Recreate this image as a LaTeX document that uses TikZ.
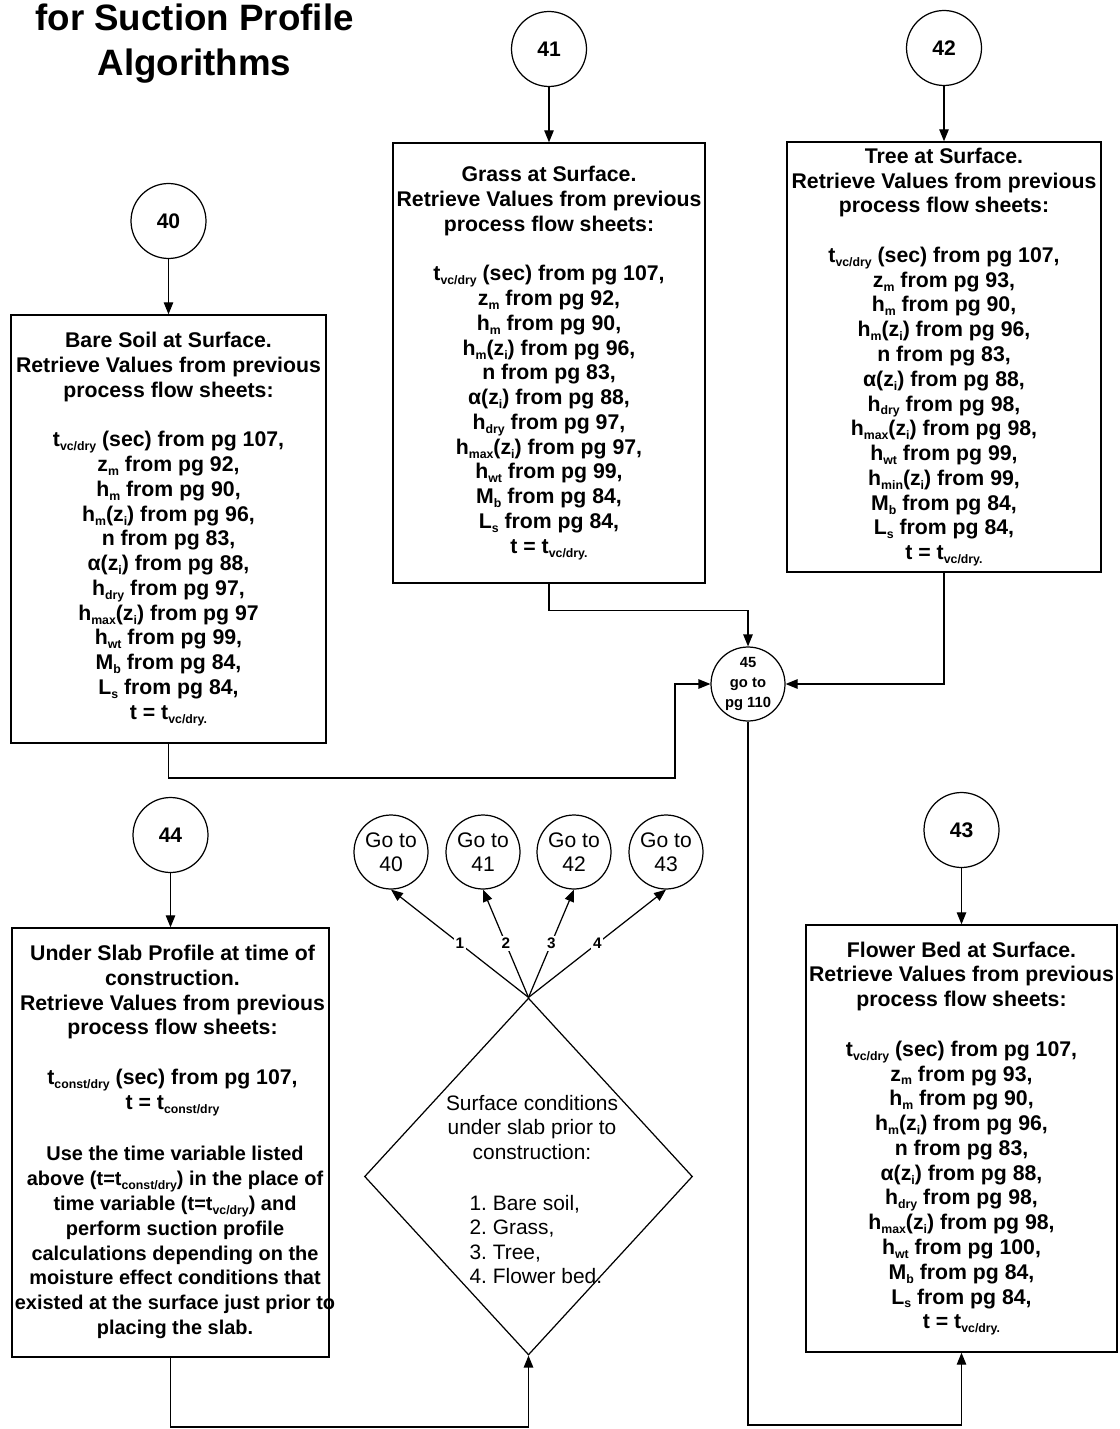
\documentclass[tikz,border=0pt]{standalone}
\usepackage{fontspec}
\setmainfont{Liberation Sans}
\usetikzlibrary{arrows.meta,shapes.geometric}

\newcommand{\sbs}[1]{\raisebox{-0.35ex}{\fontsize{7}{8}\selectfont #1}}
\newcommand{\tvc}{t\sbs{vc/dry}}
\newcommand{\zi}{(z\sbs{i})}

\begin{document}
\begin{tikzpicture}[x=0.02cm,y=-0.02cm,line width=0.7pt,
    >={Triangle[length=0.24cm,width=0.19cm]},
    boxtext/.style={inner sep=0pt,align=center,font=\fontsize{12.1}{14.1}\selectfont\bfseries},
    box/.style={boxtext,draw,line width=0.85pt},
    num/.style={circle,draw,minimum size=1.5cm,inner sep=0pt,
        font=\fontsize{12}{14}\selectfont\bfseries},
    goto/.style={circle,draw,minimum size=1.48cm,inner sep=0pt,align=center,
        font=\fontsize{12}{13.6}\selectfont},
    lbl/.style={fill=white,inner sep=1pt,font=\fontsize{8.7}{10}\selectfont\bfseries},
    cond/.style={inner sep=0pt,font=\fontsize{11.9}{13.95}\selectfont},
    title/.style={anchor=base,font=\fontsize{20.9}{25}\selectfont\bfseries}]
    \fill[white,use as bounding box] (0,0) rectangle (1119,1429);

    % title
    \node[title] (title1) at (194.5,31) {for Suction Profile};
    \node[title] (title2) at (194.5,76) {Algorithms};

    % entry points
    \node[num] (c40) at (168.5,221) {40};
    \node[num] (c41) at (549,49) {41};
    \node[num] (c42) at (944,48) {42};
    \node[num] (c43) at (961.5,830) {43};
    \node[num] (c44) at (170.5,835) {44};
    \node[circle,draw,minimum size=1.48cm,inner sep=0pt,align=center,
        font=\fontsize{8.4}{11.3}\selectfont\bfseries] (c45) at (748,684) {45\\go to\\pg 110};

    % surface boxes
    \node[box,minimum width=6.30cm,minimum height=8.56cm] (soil) at (168.5,529) {Bare Soil at Surface.\\Retrieve Values from previous\\process flow sheets:\\[14.1pt]
        \tvc{} (sec) from pg 107,\\z\sbs{m} from pg 92,\\h\sbs{m} from pg 90,\\h\sbs{m}\zi{} from pg 96,\\n from pg 83,\\α\zi{} from pg 88,\\
        h\sbs{dry} from pg 97,\\h\sbs{max}\zi{} from pg 97\\h\sbs{wt} from pg 99,\\M\sbs{b} from pg 84,\\L\sbs{s} from pg 84,\\t = t\sbs{vc/dry.}};
    \node[box,minimum width=6.24cm,minimum height=8.80cm] (grass) at (549,363) {Grass at Surface.\\Retrieve Values from previous\\process flow sheets:\\[14.1pt]
        \tvc{} (sec) from pg 107,\\z\sbs{m} from pg 92,\\h\sbs{m} from pg 90,\\h\sbs{m}\zi{} from pg 96,\\n from pg 83,\\α\zi{} from pg 88,\\
        h\sbs{dry} from pg 97,\\h\sbs{max}\zi{} from pg 97,\\h\sbs{wt} from pg 99,\\M\sbs{b} from pg 84,\\L\sbs{s} from pg 84,\\t = t\sbs{vc/dry.}};
    \node[box,minimum width=6.28cm,minimum height=8.60cm] (tree) at (944,357) {Tree at Surface.\\Retrieve Values from previous\\process flow sheets:\\[14.1pt]
        \tvc{} (sec) from pg 107,\\z\sbs{m} from pg 93,\\h\sbs{m} from pg 90,\\h\sbs{m}\zi{} from pg 96,\\n from pg 83,\\α\zi{} from pg 88,\\
        h\sbs{dry} from pg 98,\\h\sbs{max}\zi{} from pg 98,\\h\sbs{wt} from pg 99,\\h\sbs{min}\zi{} from 99,\\M\sbs{b} from pg 84,\\L\sbs{s} from pg 84,\\t = t\sbs{vc/dry.}};
    \node[box,minimum width=6.22cm,minimum height=8.54cm] (flower) at (961.5,1138.5) {Flower Bed at Surface.\\Retrieve Values from previous\\process flow sheets:\\[14.1pt]
        \tvc{} (sec) from pg 107,\\z\sbs{m} from pg 93,\\h\sbs{m} from pg 90,\\h\sbs{m}\zi{} from pg 96,\\n from pg 83,\\α\zi{} from pg 88,\\
        h\sbs{dry} from pg 98,\\h\sbs{max}\zi{} from pg 98,\\h\sbs{wt} from pg 100,\\M\sbs{b} from pg 84,\\L\sbs{s} from pg 84,\\t = t\sbs{vc/dry.}};

    % under slab box, its text set apart so that it may run over the frame
    \node[draw,line width=0.85pt,minimum width=6.34cm,minimum height=8.58cm] (slab) at (170.5,1142.5) {};
    \node[boxtext] (slabhead) at (172.5,1030.5) {Under Slab Profile at time of\\construction.\\Retrieve Values from previous\\process flow sheets:\\[14.1pt]
        t\sbs{const/dry} (sec) from pg 107,\\t = t\sbs{const/dry}};
    \node[boxtext,font=\fontsize{11.35}{14.1}\selectfont\bfseries] (slabbody) at (175,1242.5) {Use the time variable listed\\above (t=t\sbs{const/dry}) in the place of\\time variable (t=\tvc) and\\perform suction profile\\
        calculations depending on the\\moisture effect conditions that\\existed at the surface just prior to\\placing the slab.};

    % decision
    \node[diamond,draw,minimum width=6.56cm,minimum height=7.14cm,inner sep=0pt] (cond) at (528.5,1176.5) {};
    \node[cond,align=center] (condtop) at (532,1127.5) {Surface conditions\\under slab prior to\\construction:};
    \node[cond,align=left,anchor=west] (condlist) at (469,1239.5) {1.\ Bare soil,\\2.\ Grass,\\3.\ Tree,\\4.\ Flower bed.};

    \node[goto] (g40) at (391,852) {Go to\\40};
    \node[goto] (g41) at (483,852) {Go to\\41};
    \node[goto] (g42) at (574,852) {Go to\\42};
    \node[goto] (g43) at (666,852) {Go to\\43};

    % connectors
    \draw[->] (c40) -- (soil);
    \draw[->] (c41) -- (grass);
    \draw[->] (c42) -- (tree);
    \draw[->] (c44) -- (slab);
    \draw[->] (c43) -- (flower);
    \draw[->] (grass.south) -- ++(0,27) -| (c45.north);
    \draw[->] (tree.south) |- (c45.east);
    \coordinate (soiljoin) at (675,778);
    \draw[->] (soil.south) |- (soiljoin) |- (c45.west);
    \coordinate (flowerfoot) at (961.5,1425);
    \draw[->] (c45.south) |- (flowerfoot) -- (flower.south);
    \coordinate (slabfoot) at (170.5,1427);
    \draw[->] (slab.south) -- (slabfoot) -| (cond.south);
    \foreach \g/\k in {g40/1,g41/2,g42/3,g43/4}
        \draw[->] (cond.north) -- node[lbl] {\k} (\g.south);
\end{tikzpicture}
\end{document}
